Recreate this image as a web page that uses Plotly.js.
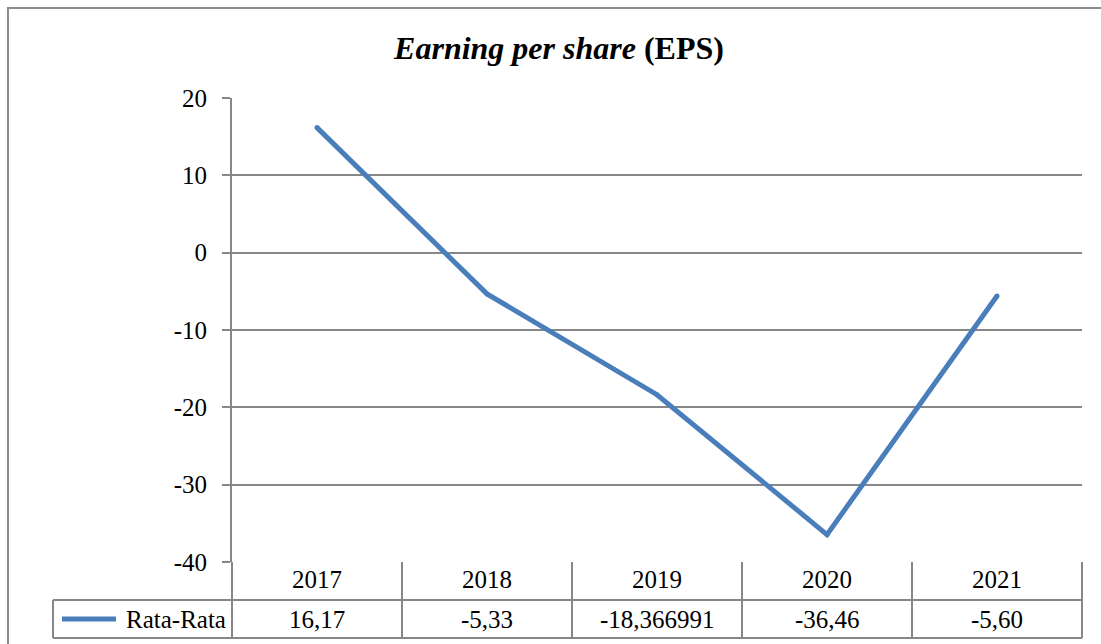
<!DOCTYPE html>
<html>
<head>
<meta charset="utf-8">
<script src="https://cdn.plot.ly/plotly-3.0.1.min.js"></script>
<style>html,body{margin:0;padding:0;background:#fff;}#chart{width:1101px;height:644px;}</style>
</head>
<body>
<div id="chart"></div>
<script>
// ---- data ----
var categories = ['2017', '2018', '2019', '2020', '2021'];
var seriesName = 'Rata-Rata';
var values = [16.17, -5.33, -18.366991, -36.46, -5.60];
var valueLabels = ['16,17', '-5,33', '-18,366991', '-36,46', '-5,60'];
var yTicks = [20, 10, 0, -10, -20, -30, -40];
var yTickLabels = yTicks.map(function (v) { return String(v); });

// ---- layout geometry (pixels) ----
var W = 1101, H = 644;
var M = {l: 232, r: 19, t: 98, b: 82};
var PW = W - M.l - M.r, PH = H - M.t - M.b;
function px(x) { return (x - M.l) / PW; }
function py(y) { return (H - M.b - y) / PH; }

var FONT = 'Liberation Serif, Times New Roman, serif';
var GRID = '#878787';
var BLUE = '#4A7EBB';
var FS = 25;

var rowMid = 600, rowBot = 638, legLeft = 53;

var shapes = [];
// outer chart border
shapes.push({type: 'rect', xref: 'paper', yref: 'paper', x0: px(8), x1: px(W + 10), y0: py(H + 10), y1: py(8),
  line: {color: '#8c8c8c', width: 2}, fillcolor: 'rgba(0,0,0,0)', layer: 'below'});
// y axis extension through table
shapes.push({type: 'line', xref: 'paper', yref: 'paper', x0: 0, x1: 0, y0: py(rowBot), y1: 0, line: {color: GRID, width: 2}});
// table vertical lines
for (var i = 1; i < categories.length; i++) {
  shapes.push({type: 'line', xref: 'x', yref: 'paper', x0: i - 0.5, x1: i - 0.5, y0: py(rowBot), y1: 0, line: {color: GRID, width: 2}});
}
shapes.push({type: 'line', xref: 'paper', yref: 'paper', x0: 1, x1: 1, y0: py(rowBot), y1: 0, line: {color: GRID, width: 2}});
// table horizontal lines
shapes.push({type: 'line', xref: 'paper', yref: 'paper', x0: px(legLeft), x1: 1, y0: py(rowMid), y1: py(rowMid), line: {color: GRID, width: 2}});
shapes.push({type: 'line', xref: 'paper', yref: 'paper', x0: px(legLeft), x1: 1, y0: py(rowBot), y1: py(rowBot), line: {color: GRID, width: 2}});
// legend cell left border
shapes.push({type: 'line', xref: 'paper', yref: 'paper', x0: px(legLeft), x1: px(legLeft), y0: py(rowBot), y1: py(rowMid), line: {color: GRID, width: 2}});
// legend key line
shapes.push({type: 'line', xref: 'paper', yref: 'paper', x0: px(62), x1: px(116), y0: py(619), y1: py(619), line: {color: BLUE, width: 5}});

var annotations = [];
values.forEach(function (v, i) {
  annotations.push({xref: 'x', yref: 'paper', x: i, y: py(619), text: valueLabels[i], showarrow: false,
    xanchor: 'center', yanchor: 'middle', font: {family: FONT, size: FS, color: '#000'}});
});
annotations.push({xref: 'paper', yref: 'paper', x: px(228), y: py(619), text: seriesName, showarrow: false,
  xanchor: 'right', yanchor: 'middle', font: {family: FONT, size: FS, color: '#000'}});

var trace = {
  type: 'scatter', mode: 'lines+markers', x: categories, y: values, name: seriesName,
  line: {color: BLUE, width: 5},
  marker: {color: BLUE, size: 5},
  hoverinfo: 'x+y', cliponaxis: false
};

var layout = {
  width: W, height: H,
  margin: M,
  paper_bgcolor: '#fff', plot_bgcolor: '#fff',
  showlegend: false,
  font: {family: FONT, color: '#000', size: FS},
  title: {
    text: '<b><i>Earning per share</i> (EPS)</b>',
    font: {family: FONT, size: 32, color: '#000'},
    xref: 'container', yref: 'container', x: 559 / W, y: 1 - 48 / H, xanchor: 'center', yanchor: 'middle'
  },
  xaxis: {
    type: 'category', range: [-0.5, categories.length - 0.5],
    showgrid: false, zeroline: false, showline: false, ticks: '',
    tickfont: {family: FONT, size: FS, color: '#000'},
    fixedrange: true
  },
  yaxis: {
    range: [-40, 20], tickvals: yTicks, ticktext: yTickLabels,
    showgrid: true, gridcolor: GRID, gridwidth: 2,
    zeroline: false, showline: true, linecolor: GRID, linewidth: 2,
    ticks: 'outside', ticklen: 8, tickcolor: GRID, tickwidth: 2,
    ticklabelstandoff: 10,
    tickfont: {family: FONT, size: FS, color: '#000'},
    fixedrange: true
  },
  shapes: shapes,
  annotations: annotations
};

Plotly.newPlot('chart', [trace], layout, {displayModeBar: false, staticPlot: true});
</script>
</body>
</html>
